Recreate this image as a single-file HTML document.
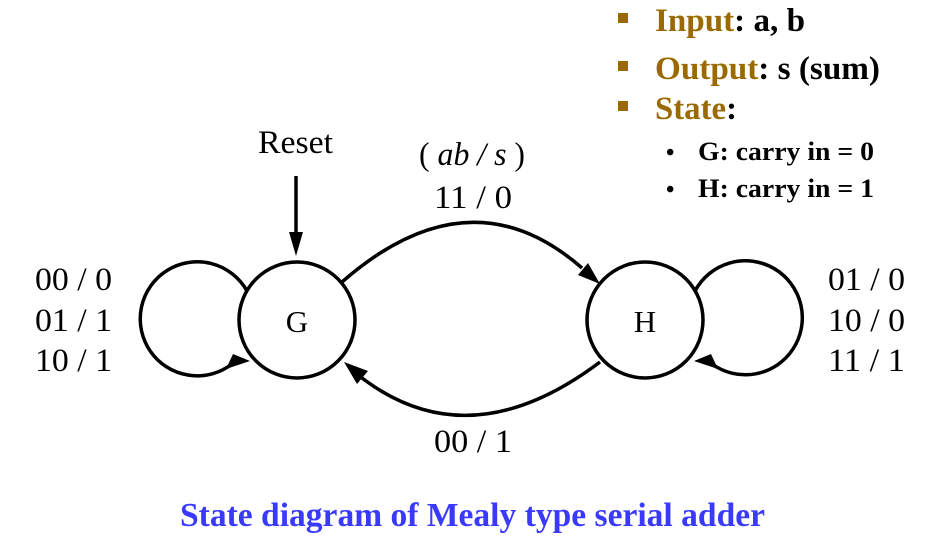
<!DOCTYPE html>
<html><head><style>
html,body{margin:0;padding:0;background:#fff;}
svg{display:block;}
</style></head><body>
<svg width="936" height="541" viewBox="0 0 936 541" xmlns="http://www.w3.org/2000/svg">
<g font-family="Liberation Serif, serif" font-weight="bold">
<rect x="618" y="13" width="10" height="10" fill="#9a6a00"/>
<text x="655" y="31" font-size="33" fill="#9a6a00" textLength="150" lengthAdjust="spacingAndGlyphs">Input<tspan fill="#000">: a, b</tspan></text>
<rect x="618" y="61" width="10" height="10" fill="#9a6a00"/>
<text x="655" y="79" font-size="33" fill="#9a6a00" textLength="225" lengthAdjust="spacingAndGlyphs">Output<tspan fill="#000">: s (sum)</tspan></text>
<rect x="618" y="101" width="10" height="10" fill="#9a6a00"/>
<text x="655" y="119" font-size="33" fill="#9a6a00" textLength="82" lengthAdjust="spacingAndGlyphs">State<tspan fill="#000">:</tspan></text>
<text x="666" y="160" font-size="24">•</text>
<text x="698" y="160" font-size="26" textLength="176" lengthAdjust="spacingAndGlyphs">G: carry in = 0</text>
<text x="666" y="197" font-size="24">•</text>
<text x="698" y="197" font-size="26" textLength="176" lengthAdjust="spacingAndGlyphs">H: carry in = 1</text>
<text x="180" y="526" font-size="34" fill="#3a3aff" textLength="585" lengthAdjust="spacingAndGlyphs">State diagram of Mealy type serial adder</text>
</g>
<g font-family="Liberation Serif, serif" font-size="33" fill="#000">
<text x="258" y="153" textLength="75" lengthAdjust="spacingAndGlyphs">Reset</text>
<text x="419" y="165" textLength="106" lengthAdjust="spacingAndGlyphs">( <tspan font-style="italic">ab / s</tspan> )</text>
<text x="434" y="208" textLength="78" lengthAdjust="spacingAndGlyphs">11 / 0</text>
<text x="434" y="452" textLength="78" lengthAdjust="spacingAndGlyphs">00 / 1</text>
<text x="35" y="290" textLength="77" lengthAdjust="spacingAndGlyphs">00 / 0</text>
<text x="35" y="331" textLength="77" lengthAdjust="spacingAndGlyphs">01 / 1</text>
<text x="35" y="371" textLength="77" lengthAdjust="spacingAndGlyphs">10 / 1</text>
<text x="828" y="290" textLength="77" lengthAdjust="spacingAndGlyphs">01 / 0</text>
<text x="828" y="331" textLength="77" lengthAdjust="spacingAndGlyphs">10 / 0</text>
<text x="828" y="371" textLength="77" lengthAdjust="spacingAndGlyphs">11 / 1</text>
<text x="297" y="332" text-anchor="middle" font-size="31">G</text>
<text x="645" y="332" text-anchor="middle" font-size="31">H</text>
</g>
<g stroke="#000" stroke-width="3.5" fill="none">
<circle cx="297" cy="320" r="58"/>
<circle cx="645" cy="320" r="58"/>
<path d="M247 291 A57 57 0 1 0 232 364"/>
<path d="M695 291 A57 57 0 1 1 712 364"/>
<line x1="296" y1="176" x2="296" y2="235"/>
<path d="M342 282 Q470 170 582 268"/>
<path d="M600 362 Q470 460 362 378"/>
</g>
<g fill="#000">
<polygon points="296,256 289,232 303,232"/>
<polygon points="250,361 226,369 233,354"/>
<polygon points="694,361 718,369 711,354"/>
<polygon points="600,284 578,275 588,263"/>
<polygon points="344,362 368,371 357,384"/>
</g>
</svg>
</body></html>
